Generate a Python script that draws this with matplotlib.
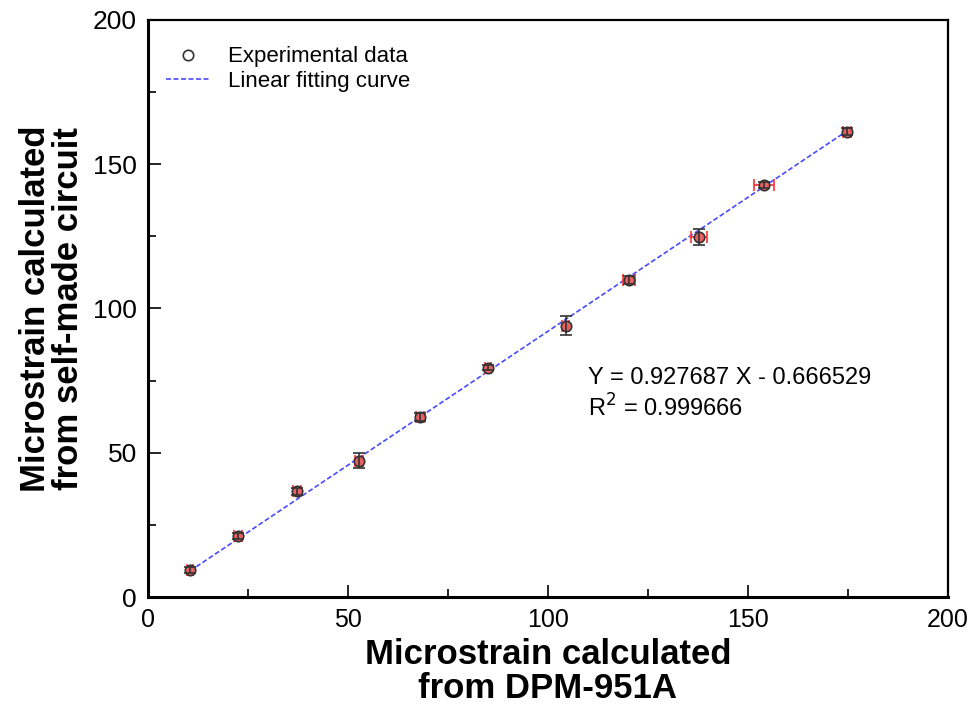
import matplotlib
matplotlib.use("Agg")
import matplotlib.pyplot as plt
import numpy as np
from matplotlib.ticker import MultipleLocator

# measured values (DPM-951A vs self-made circuit)
x_dpm = [10.5, 22.5, 37.25, 52.75, 68.0, 85.0, 104.5, 120.25, 137.75, 154.0, 174.75]
y_self = [9.4, 21.1, 36.7, 47.3, 62.4, 79.5, 94.1, 109.8, 124.8, 142.8, 161.3]
x_err = [0.8, 0.9, 1.0, 0.9, 0.9, 0.8, 0.9, 1.5, 2.0, 2.5, 1.0]
y_err = [1.0, 1.0, 1.2, 2.6, 1.5, 0.8, 3.3, 1.3, 2.8, 1.2, 1.2]

slope = 0.927687
intercept = -0.666529
r2 = 0.999666

narrow = ["Liberation Sans Narrow", "Liberation Sans", "DejaVu Sans"]
plt.rcParams["font.family"] = ["Liberation Sans", "DejaVu Sans"]

fig = plt.figure(figsize=(9.74, 7.10), dpi=100)
ax = fig.add_axes([0.152, 0.159, 0.821, 0.813])

# fit line
xf = np.array([x_dpm[0], x_dpm[-1]])
ax.plot(xf, slope * xf + intercept, color="#4a4aff", lw=1.2,
        linestyle=(0, (3, 1.5)), zorder=2, label="Linear fitting curve")

# x error bars (red) and y error bars (black)
ax.errorbar(x_dpm, y_self, xerr=x_err, fmt="o", ms=6.5, mfc="#e86060",
            mec="#e86060", ecolor="#ff3030", elinewidth=1.2, capsize=4,
            capthick=1.2, zorder=3)
ax.errorbar(x_dpm, y_self, yerr=y_err, fmt="none", ecolor="#333333",
            elinewidth=1.2, capsize=4, capthick=1.2, zorder=4)
ax.plot(x_dpm, y_self, "o", ms=7.5, mfc="none", mec="#333333", mew=1.2,
        zorder=5, label="Experimental data")

ax.set_xlim(0, 200)
ax.set_ylim(0, 200)
ax.xaxis.set_major_locator(MultipleLocator(50))
ax.xaxis.set_minor_locator(MultipleLocator(25))
ax.yaxis.set_major_locator(MultipleLocator(50))
ax.yaxis.set_minor_locator(MultipleLocator(25))
ax.tick_params(which="both", direction="in", top=False, right=False, width=1.2)
ax.tick_params(which="major", length=9)
ax.tick_params(which="minor", length=6)
ax.tick_params(axis="y", labelsize=19, pad=8)
ax.tick_params(axis="x", labelsize=18, pad=8)
for lab in ax.get_xticklabels():
    lab.set_family(narrow)

for side in ["left", "bottom"]:
    ax.spines[side].set_linewidth(2.2)
for side in ["top", "right"]:
    ax.spines[side].set_linewidth(1.6)

ax.set_xlabel("Microstrain calculated\nfrom DPM-951A", fontsize=25,
              fontweight="bold", family=narrow, linespacing=1.05, labelpad=4)
ax.set_ylabel("Microstrain calculated\nfrom self-made circuit", fontsize=25,
              fontweight="bold", linespacing=0.98, labelpad=6)

ax.text(110, 76, "Y = %.6f X - %.6f" % (slope, -intercept), fontsize=17,
        va="center")
ax.text(110, 65.5, "R$^2$ = %.6f" % r2, fontsize=17, va="center")

handles, labels = ax.get_legend_handles_labels()
ax.legend(handles[::-1], labels[::-1], loc="upper left", frameon=False,
          fontsize=16, handlelength=2.0, borderaxespad=0.4,
          bbox_to_anchor=(0.0, 0.985), labelspacing=0.15)

fig.savefig("out.png", dpi=100)
